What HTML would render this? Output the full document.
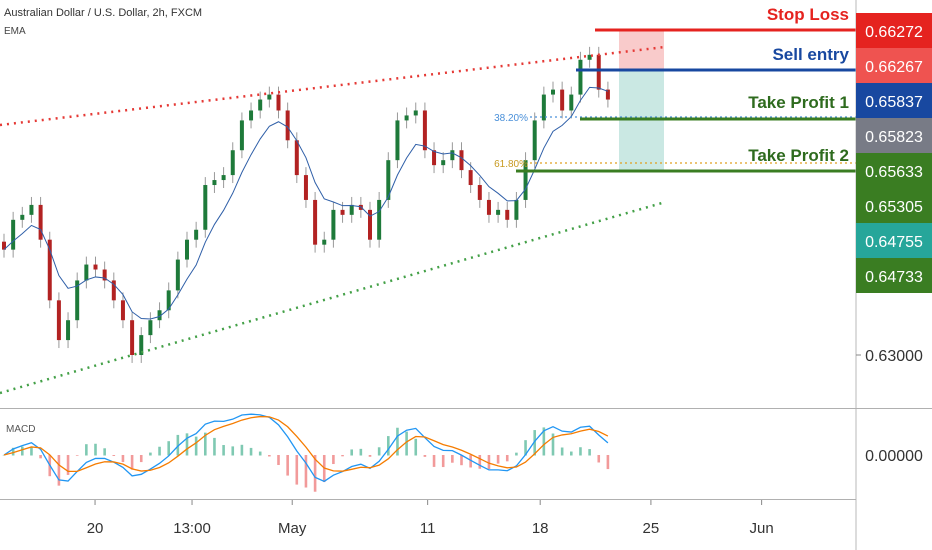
<!DOCTYPE html>
<html><head><meta charset="utf-8">
<style>
body{margin:0;background:#fff;font-family:"Liberation Sans",sans-serif;}
svg{display:block}
</style></head>
<body>
<svg id="chart" width="932" height="550" viewBox="0 0 932 550">
<rect width="932" height="550" fill="#fff"/>
<text x="4" y="16" font-size="11" fill="#333">Australian Dollar / U.S. Dollar, 2h, FXCM</text>
<text x="4" y="34" font-size="10" fill="#444">EMA</text>
<g id="marks"></g>
<g id="overlay"></g>
<line x1="856" y1="0" x2="856" y2="550" stroke="#b8b8b8"/>
<line x1="0" y1="408.5" x2="932" y2="408.5" stroke="#b0b0b0"/>
<line x1="0" y1="499.5" x2="856" y2="499.5" stroke="#b0b0b0"/>
<text x="6" y="432" font-size="10" fill="#555">MACD</text>
<g id="axes"></g>
</svg>
<script>
const closes=[0.6406,0.6436,0.6441,0.6451,0.6416,0.6355,0.6315,0.6335,0.6375,0.6391,0.6386,0.6375,0.6355,0.6335,0.6300,0.6320,0.6335,0.6345,0.6365,0.6396,0.6416,0.6426,0.6471,0.6476,0.6481,0.6506,0.6536,0.6546,0.6557,0.6562,0.6546,0.6516,0.6481,0.6456,0.6411,0.6416,0.6446,0.6441,0.6451,0.6446,0.6416,0.6456,0.6496,0.6536,0.6541,0.6546,0.6506,0.6491,0.6496,0.6506,0.6486,0.6471,0.6456,0.6441,0.6446,0.6436,0.6456,0.6496,0.6536,0.6562,0.6567,0.6546,0.6562,0.6597,0.6602,0.6567,0.6557];
const priceTicks=[0.63];
const priceTickLabels=["0.63000"];
const levelLabels=["0.66272","0.66267","0.65837","0.65823","0.65633","0.65305","0.64755","0.64733"];
const levelColors=["#e5231f","#ef5350","#1848a0","#787b86","#3a7d22","#3a7d22","#26a69a","#3a7d22"];
const timeLabels=["20","13:00","May","11","18","25","Jun"];
const timeIdx=[9.95,20.55,31.5,46.3,58.6,70.7,82.8];

const NS="http://www.w3.org/2000/svg";
const X0=4,STEP=9.15;
function xs(i){return X0+i*STEP;}
function ys(p){return 355-(p-0.63)*9940;}
function mk(tag,attrs,parent){const e=document.createElementNS(NS,tag);for(const k in attrs)e.setAttribute(k,attrs[k]);parent.appendChild(e);return e;}
const marks=document.getElementById('marks'),axes=document.getElementById('axes'),ov=document.getElementById('overlay');

for(let i=0;i<closes.length;i++){
  const o=i?closes[i-1]:closes[0]+0.0008,c=closes[i];
  const up=c>=o,col=up?"#1e7a3a":"#b22222";
  const hi=Math.max(o,c)+0.0008,lo=Math.min(o,c)-0.0008;
  const w=mk('line',{x1:xs(i),x2:xs(i),y1:ys(hi),y2:ys(lo),stroke:"#999","stroke-width":1},marks);
  
  
  const top=ys(Math.max(o,c)),h=Math.max(1,ys(Math.min(o,c))-top);
  const b=mk('rect',{x:xs(i)-2,y:top,width:4,height:h,fill:col},marks);
  
  
}
function ema(arr,n){const k=2/(n+1);let r=[],v=arr[0];arr.forEach((a,i)=>{v=i?a*k+v*(1-k):a;r.push(v);});return r;}
const e=ema(closes,6);
const ep=mk('path',{d:e.map((v,i)=>(i?'L':'M')+xs(i)+','+ys(v)).join(''),fill:'none',stroke:'#2f5fa8','stroke-width':1},marks);


const f=ema(closes,4),s=ema(closes,9);const macd=f.map((v,i)=>v-s[i]);const sig=ema(macd,4);
function ym(v){return 455-v*10000;}
macd.forEach((v,i)=>{const h=v-sig[i];const r=mk('rect',{x:xs(i)-1.3,y:Math.min(ym(h*2),455),width:2.6,height:Math.abs(ym(h*2)-455)+0.5,fill:h>=0?'#7fc9b2':'#f29a9a'},marks);

});
const ml=mk('path',{d:macd.map((v,i)=>(i?'L':'M')+xs(i)+','+ym(v)).join(''),fill:'none',stroke:'#2196f3','stroke-width':1.3},marks);


const sl=mk('path',{d:sig.map((v,i)=>(i?'L':'M')+xs(i)+','+ym(v)).join(''),fill:'none',stroke:'#f57c00','stroke-width':1.3},marks);



function line(x1,y1,x2,y2,st,w,dash,name){const l=mk('line',{x1,y1,x2,y2,stroke:st,'stroke-width':w},ov);if(dash)l.setAttribute('stroke-dasharray',dash);

}
function rect(x,y,w,h,fill,name){const r=mk('rect',{x,y,width:w,height:h,fill},ov);

}
rect(619,30,45,40,'rgba(244,160,160,0.55)','risk-zone');
rect(619,70,45,100,'rgba(150,210,200,0.5)','reward-zone');
line(0,125,665,47,'#e53935',2.5,'2 5','upper-channel-line');
line(0,393,662,203,'#43a047',2.5,'2 5','lower-channel-line');
line(530,117,856,117,'#4a90d9',1.2,'2 3','fib-38-line');
line(530,163,856,163,'#e0a020',1.2,'2 3','fib-61-line');
line(595,30,856,30,'#e5231f',3,null,'stop-loss-line');
line(576,70,856,70,'#1848a0',3,null,'sell-entry-line');
line(580,119,856,119,'#3a7d22',3,null,'take-profit-1-line');
line(516,171,856,171,'#3a7d22',3,null,'take-profit-2-line');
function txt(x,y,str,col,size,anchor,name,bold){const t=mk('text',{x,y,fill:col,'font-size':size,'text-anchor':anchor||'start','font-family':'"Liberation Sans Narrow","Liberation Sans",sans-serif'},ov);if(bold)t.setAttribute('font-weight','bold');t.textContent=str;

}
txt(849,20,'Stop Loss','#e5231f',17,'end','stop-loss-label',1);
txt(849,60,'Sell entry','#1848a0',17,'end','sell-entry-label',1);
txt(849,108,'Take Profit 1','#2e6b1e',17,'end','take-profit-1-label',1);
txt(849,161,'Take Profit 2','#2e6b1e',17,'end','take-profit-2-label',1);
txt(528,121,'38.20%','#4a90d9',10,'end','fib-38-label');
txt(528,167,'61.80%','#c89a20',10,'end','fib-61-label');

levelLabels.forEach((lab,i)=>{const y=13+i*35;
const r=mk('rect',{x:856,y:y,width:76,height:35,fill:levelColors[i]},axes);


const t=mk('text',{x:894,y:y+24,fill:'#fff','font-size':16,'text-anchor':'middle','font-family':'"Liberation Sans Narrow","Liberation Sans",sans-serif'},axes);t.textContent=lab;

});
priceTicks.forEach((p,i)=>{const t=mk('text',{x:894,y:ys(p)+6,fill:'#333','font-size':16,'text-anchor':'middle','font-family':'"Liberation Sans Narrow","Liberation Sans",sans-serif'},axes);t.textContent=priceTickLabels[i];


mk('line',{x1:856,x2:861,y1:ys(p),y2:ys(p),stroke:'#888'},axes);});
const zt=mk('text',{x:894,y:461,fill:'#333','font-size':16,'text-anchor':'middle','font-family':'"Liberation Sans Narrow","Liberation Sans",sans-serif'},axes);zt.textContent='0.00000';


timeLabels.forEach((lab,i)=>{const x=xs(timeIdx[i]);
mk('line',{x1:x,x2:x,y1:500,y2:505,stroke:'#888'},axes);
const t=mk('text',{x:x,y:533,fill:'#333','font-size':15,'text-anchor':'middle','font-family':'"Liberation Sans Narrow","Liberation Sans",sans-serif'},axes);t.textContent=lab;

});
</script>
</body></html>
